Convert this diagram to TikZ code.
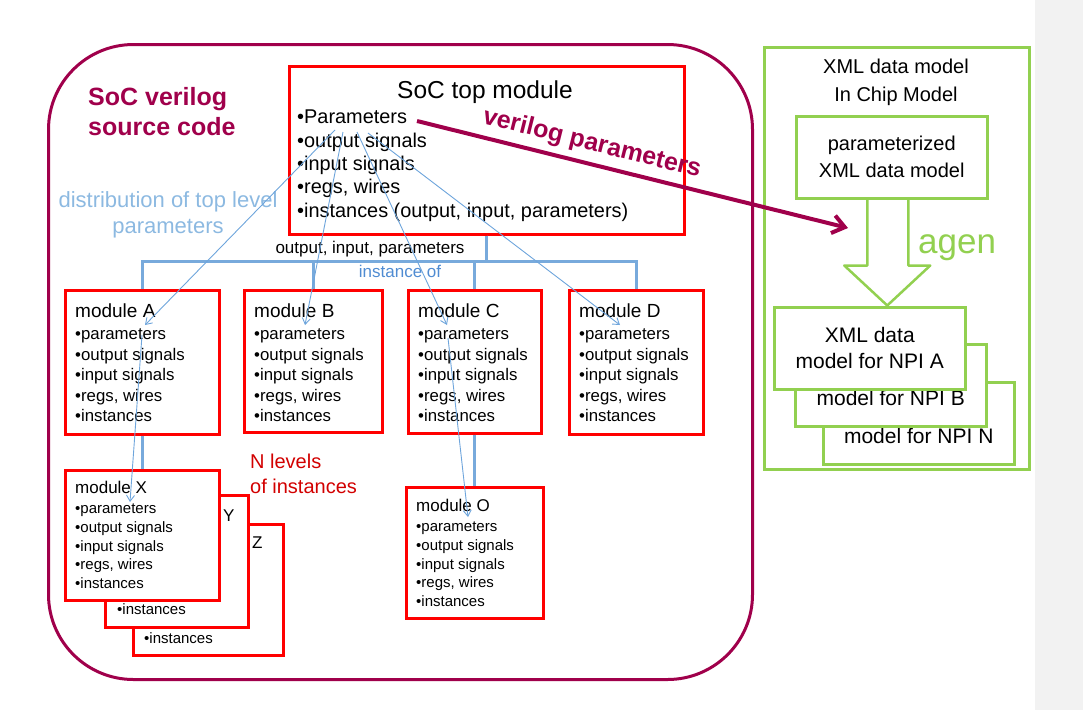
\documentclass[tikz,border=0pt]{standalone}
\usepackage{fontspec}
\setmainfont{Liberation Sans}
\usetikzlibrary{arrows.meta}

\definecolor{socred}{RGB}{160,0,75}
\definecolor{boxred}{RGB}{255,0,0}
\definecolor{lvlred}{RGB}{210,0,0}
\definecolor{treeblue}{RGB}{120,170,220}
\definecolor{thinblue}{RGB}{110,165,220}
\definecolor{distblue}{RGB}{140,185,225}
\definecolor{instblue}{RGB}{80,140,210}
\definecolor{xmlgreen}{RGB}{146,208,80}
\definecolor{panelgray}{RGB}{242,242,242}

\tikzset{
  modbox/.style={draw=boxred, line width=2.5pt, fill=white, anchor=north west, inner sep=0pt},
  modtext/.style={anchor=north west, align=left, inner sep=0pt, font=\fontsize{16.8}{20.5}\selectfont},
  subtext/.style={anchor=north west, align=left, inner sep=0pt, font=\fontsize{15}{18.8}\selectfont},
  tree/.style={draw=treeblue, line width=3pt},
  paramarrow/.style={draw=thinblue, line width=0.9pt, -{Straight Barb[length=6pt,width=8pt]}},
  greenbox/.style={draw=xmlgreen, line width=2.5pt, fill=white, anchor=north west, inner sep=0pt,
    minimum width=191, minimum height=82, align=center, font=\fontsize{21}{26}\selectfont}
}

\begin{document}
\begin{tikzpicture}[x=1pt,y=-1pt]
  \useasboundingbox (0,0) rectangle (1083,710);
  \fill[panelgray] (1035,0) rectangle (1083,710);

  %% verilog side
  \node[draw=socred, line width=3pt, rounded corners=85pt, anchor=north west, inner sep=0pt,
        minimum width=704, minimum height=635] (soc) at (47,43) {};
  \node[anchor=north west, align=left, inner sep=0pt, text=socred,
        font=\fontsize{25}{30}\bfseries] (socTitle) at (88,87) {SoC verilog\\source code};

  \node[modbox, minimum width=395, minimum height=168] (top) at (288,65) {};
  \node[anchor=base, inner sep=0pt, font=\fontsize{24.5}{28}\selectfont] (topTitle) at (485,98) {SoC top module};
  \node[anchor=north west, align=left, inner sep=0pt, font=\fontsize{19.9}{23.3}\selectfont] (topTxt) at (297,110)
    {•Parameters\\•output signals\\•input signals\\•regs, wires\\•instances (output, input, parameters)};

  \node[anchor=north, align=center, inner sep=0pt, text=distblue, font=\fontsize{22}{26}\selectfont] (distTxt)
    at (168,191) {distribution of top level\\parameters};

  %% first level of instances
  \foreach \m/\x/\w/\h in {A/64/154/144, B/243/138/142, C/407/133/143, D/568/134/144} {
    \node[modbox, minimum width=\w, minimum height=\h] (mod\m) at (\x,289) {};
    \node[modtext] (txt\m) at (\x+11,304)
      {{\fontsize{19}{22}\selectfont module \m}\\[1.5pt]•parameters\\•output signals\\•input signals\\•regs, wires\\•instances};
  }

  \coordinate (bar) at (485,261);
  \foreach \m in {A,B,C,D}
    \draw[tree] (top.south) -- (top.south |- bar) -| (mod\m.north);
  \node[anchor=base, inner sep=0pt, font=\fontsize{17}{20}\selectfont] (oipTxt) at (370,253) {output, input, parameters};
  \node[anchor=base, inner sep=0pt, text=instblue, font=\fontsize{17}{20}\selectfont] (instTxt) at (400,277) {instance of};

  %% deeper levels
  \node[modbox, minimum width=150, minimum height=131] (modZ) at (132,523) {};
  \node[anchor=base west, inner sep=0pt, font=\fontsize{17}{20}\selectfont] (zTitle) at (252,548) {Z};
  \node[anchor=base west, inner sep=0pt, font=\fontsize{15}{18}\selectfont] (zTxt) at (144,643) {•instances};
  \node[modbox, minimum width=143, minimum height=132] (modY) at (104,494) {};
  \node[anchor=base west, inner sep=0pt, font=\fontsize{17}{20}\selectfont] (yTitle) at (223,521) {Y};
  \node[anchor=base west, inner sep=0pt, font=\fontsize{15}{18}\selectfont] (yTxt) at (117,614) {•instances};
  \node[modbox, minimum width=154, minimum height=130] (modX) at (64,469) {};
  \node[subtext] (txtX) at (75,481)
    {{\fontsize{17}{20}\selectfont module X}\\[1.2pt]•parameters\\•output signals\\•input signals\\•regs, wires\\•instances};
  \node[modbox, minimum width=137, minimum height=131] (modO) at (405,486) {};
  \node[subtext] (txtO) at (416,499)
    {{\fontsize{17}{20}\selectfont module O}\\[1.2pt]•parameters\\•output signals\\•input signals\\•regs, wires\\•instances};
  \draw[tree] (modA.south) -- (modX.north);
  \draw[tree] (modC.south) -- (modO.north);

  \node[anchor=north west, align=left, inner sep=0pt, text=lvlred, font=\fontsize{20}{25}\selectfont] (lvlTxt)
    at (250,454) {N levels\\of instances};

  %% distribution of the top level parameters
  \coordinate (p1) at (335,130); \coordinate (a1) at (145,325);
  \coordinate (p2) at (343,132); \coordinate (b1) at (305,325);
  \coordinate (p3) at (357,132); \coordinate (c1) at (447,325);
  \coordinate (p4) at (368,133); \coordinate (d1) at (620,325);
  \coordinate (a2) at (142,335); \coordinate (x1) at (130,502);
  \coordinate (c2) at (448,338); \coordinate (o1) at (468,517);
  \draw[paramarrow] (p1) -- (a1);
  \draw[paramarrow] (p2) -- (b1);
  \draw[paramarrow] (p3) -- (c1);
  \draw[paramarrow] (p4) -- (d1);
  \draw[paramarrow] (a2) -- (x1);
  \draw[paramarrow] (c2) -- (o1);

  %% XML side
  \node[draw=xmlgreen, line width=2.5pt, anchor=north west, inner sep=0pt,
        minimum width=265, minimum height=422] (xml) at (763,46) {};
  \node[anchor=north, align=center, inner sep=0pt, font=\fontsize{20}{28}\selectfont] (xmlTitle)
    at (896,59) {XML data model\\In Chip Model};
  \node[greenbox, font=\fontsize{20}{27}\selectfont] (pxml) at (795,115) {parameterized\\XML data model};
  \draw[draw=xmlgreen, line width=2.5pt, line join=round] ([xshift=-24.5pt]pxml.south) -- ++(0,66) -- ++(-23,0)
    -- ++(43,40) -- ++(43,-40) -- ++(-22,0) -- ++(0,-66);
  \node[anchor=base west, inner sep=0pt, text=xmlgreen, font=\fontsize{35}{40}\selectfont] (agenTxt) at (918,253) {agen};
  \node[greenbox] (npiN) at (822,381) {\vphantom{XML data}\\model for NPI N};
  \node[greenbox] (npiB) at (794,343) {\vphantom{XML data}\\model for NPI B};
  \node[greenbox] (npiA) at (773,306) {XML data\\model for NPI A};

  %% verilog parameters into the XML model
  \coordinate (vpStart) at (417,121);
  \coordinate (vpEnd) at (848,228);
  \draw[draw=socred, line width=4pt, -{Straight Barb[length=12pt,width=18pt]}] (vpStart) -- (vpEnd);
  \node[rotate=-14, inner sep=0pt, text=socred, font=\fontsize{25}{28}\bfseries] (vpTxt) at (592,144) {verilog parameters};
\end{tikzpicture}
\end{document}
